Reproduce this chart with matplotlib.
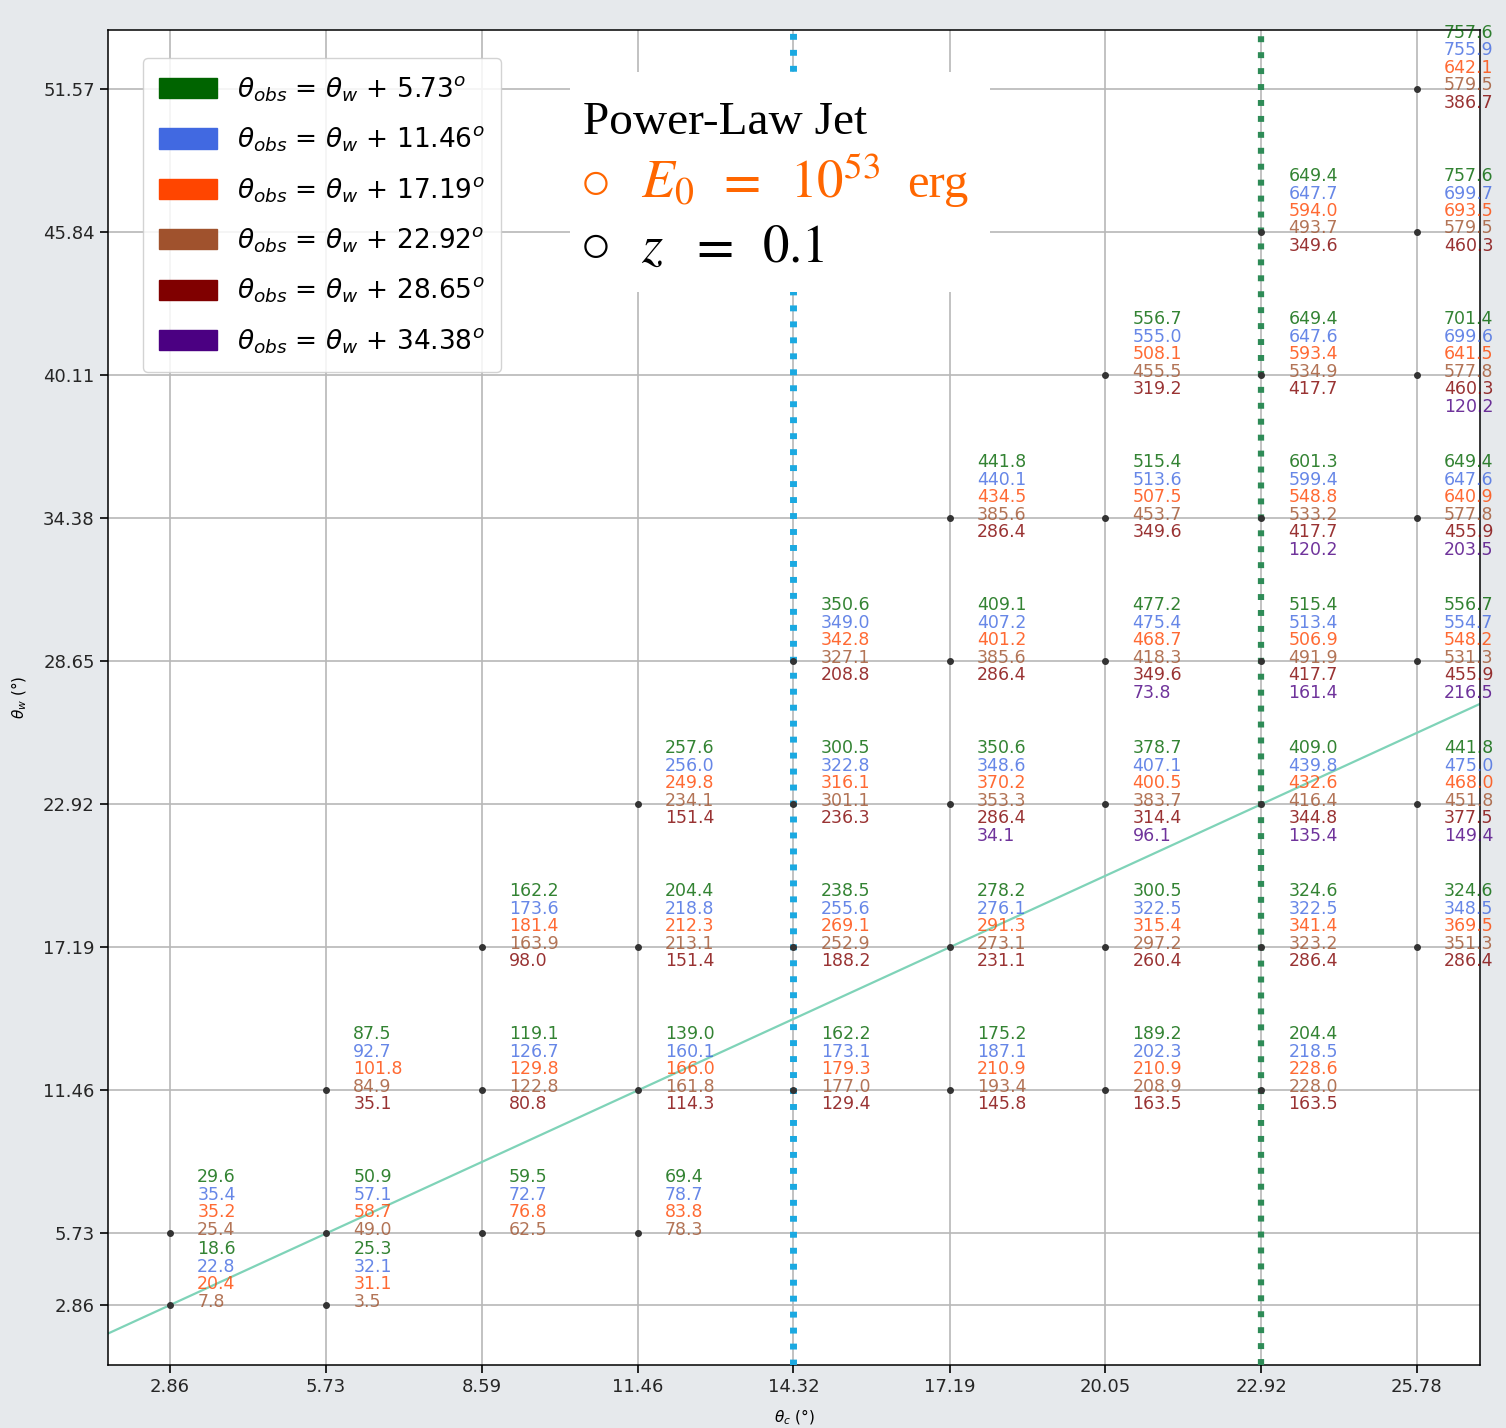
import matplotlib
matplotlib.use("Agg")
import matplotlib.pyplot as plt
import matplotlib.patches as mpatches

# grid points (theta_c, theta_w) in degrees
theta_c = [2.86, 2.86,
           5.73, 5.73, 5.73,
           8.59, 8.59, 8.59,
           11.46, 11.46, 11.46, 11.46,
           14.32, 14.32, 14.32, 14.32,
           17.19, 17.19, 17.19, 17.19, 17.19,
           20.05, 20.05, 20.05, 20.05, 20.05, 20.05,
           22.92, 22.92, 22.92, 22.92, 22.92, 22.92, 22.92,
           25.78, 25.78, 25.78, 25.78, 25.78, 25.78, 25.78]
theta_w = [2.86, 5.73,
           2.86, 5.73, 11.46,
           5.73, 11.46, 17.19,
           5.73, 11.46, 17.19, 22.92,
           11.46, 17.19, 22.92, 28.65,
           11.46, 17.19, 22.92, 28.65, 34.38,
           11.46, 17.19, 22.92, 28.65, 34.38, 40.11,
           11.46, 17.19, 22.92, 28.65, 34.38, 40.11, 45.84,
           17.19, 22.92, 28.65, 34.38, 40.11, 45.84, 51.57]

# values for each observer offset, same order as the grid points
obs_573 = [18.6, 29.6,
           25.3, 50.9, 87.5,
           59.5, 119.1, 162.2,
           69.4, 139.0, 204.4, 257.6,
           162.2, 238.5, 300.5, 350.6,
           175.2, 278.2, 350.6, 409.1, 441.8,
           189.2, 300.5, 378.7, 477.2, 515.4, 556.7,
           204.4, 324.6, 409.0, 515.4, 601.3, 649.4, 649.4,
           324.6, 441.8, 556.7, 649.4, 701.4, 757.6, 757.6]
obs_1146 = [22.8, 35.4,
            32.1, 57.1, 92.7,
            72.7, 126.7, 173.6,
            78.7, 160.1, 218.8, 256.0,
            173.1, 255.6, 322.8, 349.0,
            187.1, 276.1, 348.6, 407.2, 440.1,
            202.3, 322.5, 407.1, 475.4, 513.6, 555.0,
            218.5, 322.5, 439.8, 513.4, 599.4, 647.6, 647.7,
            348.5, 475.0, 554.7, 647.6, 699.6, 699.7, 755.9]
obs_1719 = [20.4, 35.2,
            31.1, 58.7, 101.8,
            76.8, 129.8, 181.4,
            83.8, 166.0, 212.3, 249.8,
            179.3, 269.1, 316.1, 342.8,
            210.9, 291.3, 370.2, 401.2, 434.5,
            210.9, 315.4, 400.5, 468.7, 507.5, 508.1,
            228.6, 341.4, 432.6, 506.9, 548.8, 593.4, 594.0,
            369.5, 468.0, 548.2, 640.9, 641.5, 693.5, 642.1]
obs_2292 = [7.8, 25.4,
            3.5, 49.0, 84.9,
            62.5, 122.8, 163.9,
            78.3, 161.8, 213.1, 234.1,
            177.0, 252.9, 301.1, 327.1,
            193.4, 273.1, 353.3, 385.6, 385.6,
            208.9, 297.2, 383.7, 418.3, 453.7, 455.5,
            228.0, 323.2, 416.4, 491.9, 533.2, 534.9, 493.7,
            351.3, 451.8, 531.3, 577.8, 577.8, 579.5, 579.5]
obs_2865 = [None, None,
            None, None, 35.1,
            None, 80.8, 98.0,
            None, 114.3, 151.4, 151.4,
            129.4, 188.2, 236.3, 208.8,
            145.8, 231.1, 286.4, 286.4, 286.4,
            163.5, 260.4, 314.4, 349.6, 349.6, 319.2,
            163.5, 286.4, 344.8, 417.7, 417.7, 417.7, 349.6,
            286.4, 377.5, 455.9, 455.9, 460.3, 460.3, 386.7]
obs_3438 = [None, None,
            None, None, None,
            None, None, None,
            None, None, None, None,
            None, None, None, None,
            None, None, 34.1, None, None,
            None, None, 96.1, 73.8, None, None,
            None, None, 135.4, 161.4, 120.2, None, None,
            None, 149.4, 216.5, 203.5, 120.2, None, None]

series = [obs_573, obs_1146, obs_1719, obs_2292, obs_2865, obs_3438]
offsets = ["5.73", "11.46", "17.19", "22.92", "28.65", "34.38"]
colors = ["darkgreen", "royalblue", "orangered", "sienna", "maroon", "indigo"]

xticks = [2.86, 5.73, 8.59, 11.46, 14.32, 17.19, 20.05, 22.92, 25.78]
yticks = [2.86, 5.73, 11.46, 17.19, 22.92, 28.65, 34.38, 40.11, 45.84, 51.57]

W, H = 1506, 1428
fig = plt.figure(figsize=(W / 100, H / 100), dpi=100, facecolor="#e6e9ec")
ax = fig.add_axes([108 / W, 1 - 1365 / H, (1480 - 108) / W, (1365 - 30) / H])

ax.set_xlim(1.72, 26.94)
ax.set_ylim(0.46, 53.93)
ax.set_xticks(xticks)
ax.set_yticks(yticks)
ax.set_xticklabels([f"{t:.2f}" for t in xticks])
ax.set_yticklabels([f"{t:.2f}" for t in yticks])
ax.tick_params(labelsize=13, length=6, width=1.2, labelcolor="#262626")
ax.grid(True, color="#b8b8b8", lw=1.2)
ax.set_axisbelow(True)
for s in ax.spines.values():
    s.set_linewidth(1.1)

ax.set_xlabel(r"$\theta_c$ (°)", fontsize=11, labelpad=8)
ax.set_ylabel(r"$\theta_w$ (°)", fontsize=11, labelpad=10)

# reference lines
ax.axline((0, 0), slope=1, color="#7fd3b8", lw=1.6, zorder=2)
ax.axvline(14.32, color="#1ba9e1", lw=5, ls=(0, (0.85, 1.45)), zorder=3)
ax.axvline(22.92, color="#2e8b57", lw=4.5, ls=(0, (0.95, 1.6)), zorder=3)

# grid points
ax.plot(theta_c, theta_w, "o", ms=4, color="#333333", zorder=3)

# stacked value labels
for k, (xc, yw) in enumerate(zip(theta_c, theta_w)):
    for i, (vals, col) in enumerate(zip(series, colors)):
        v = vals[k]
        if v is None:
            continue
        ax.text(xc + 0.5, yw + 2.24 - 0.70 * i, f"{v:.1f}", color=col, alpha=0.8,
                fontsize=12.5, ha="left", va="center", zorder=4, clip_on=False)

handles = [mpatches.Patch(color=c, label=r"$\theta_{obs}$ = $\theta_w$ + " + o + r"$^o$")
           for c, o in zip(colors, offsets)]
ax.legend(handles=handles, loc="upper left", bbox_to_anchor=(0.0255, 0.979),
          borderaxespad=0, fontsize=19, handlelength=2.2, handleheight=0.8,
          handletextpad=0.75, labelspacing=0.79, borderpad=0.62,
          framealpha=0.85, edgecolor="#cccccc")

# annotation box
fig.patches.append(mpatches.Rectangle((570 / W, 1 - 292 / H), 420 / W, 220 / H,
                                      transform=fig.transFigure, facecolor="white",
                                      edgecolor="none", zorder=5))
serif = ["Liberation Serif", "DejaVu Sans"]


def put(xpx, ypx, s, size, color="black"):
    fig.text(xpx / W, 1 - ypx / H, s, family=serif, fontsize=size, color=color,
             va="baseline", math_fontfamily="stix", zorder=6)


put(583, 134, "Power-Law Jet", 34)
orange = "#ff6600"
put(580, 199, "○", 38, orange)
put(641, 197, r"$E_0$", 39, orange)
put(716, 197, r"$=$", 39, orange)
put(790, 197, r"$10^{53}$", 38, orange)
put(907, 197, "erg", 35, orange)
put(580, 262, "○", 38)
put(641, 262, r"$z$", 39)
put(689, 262, r"$=$", 39)
put(762, 262, r"$0.1$", 38)

fig.savefig("out.png", dpi=100, facecolor=fig.get_facecolor())
